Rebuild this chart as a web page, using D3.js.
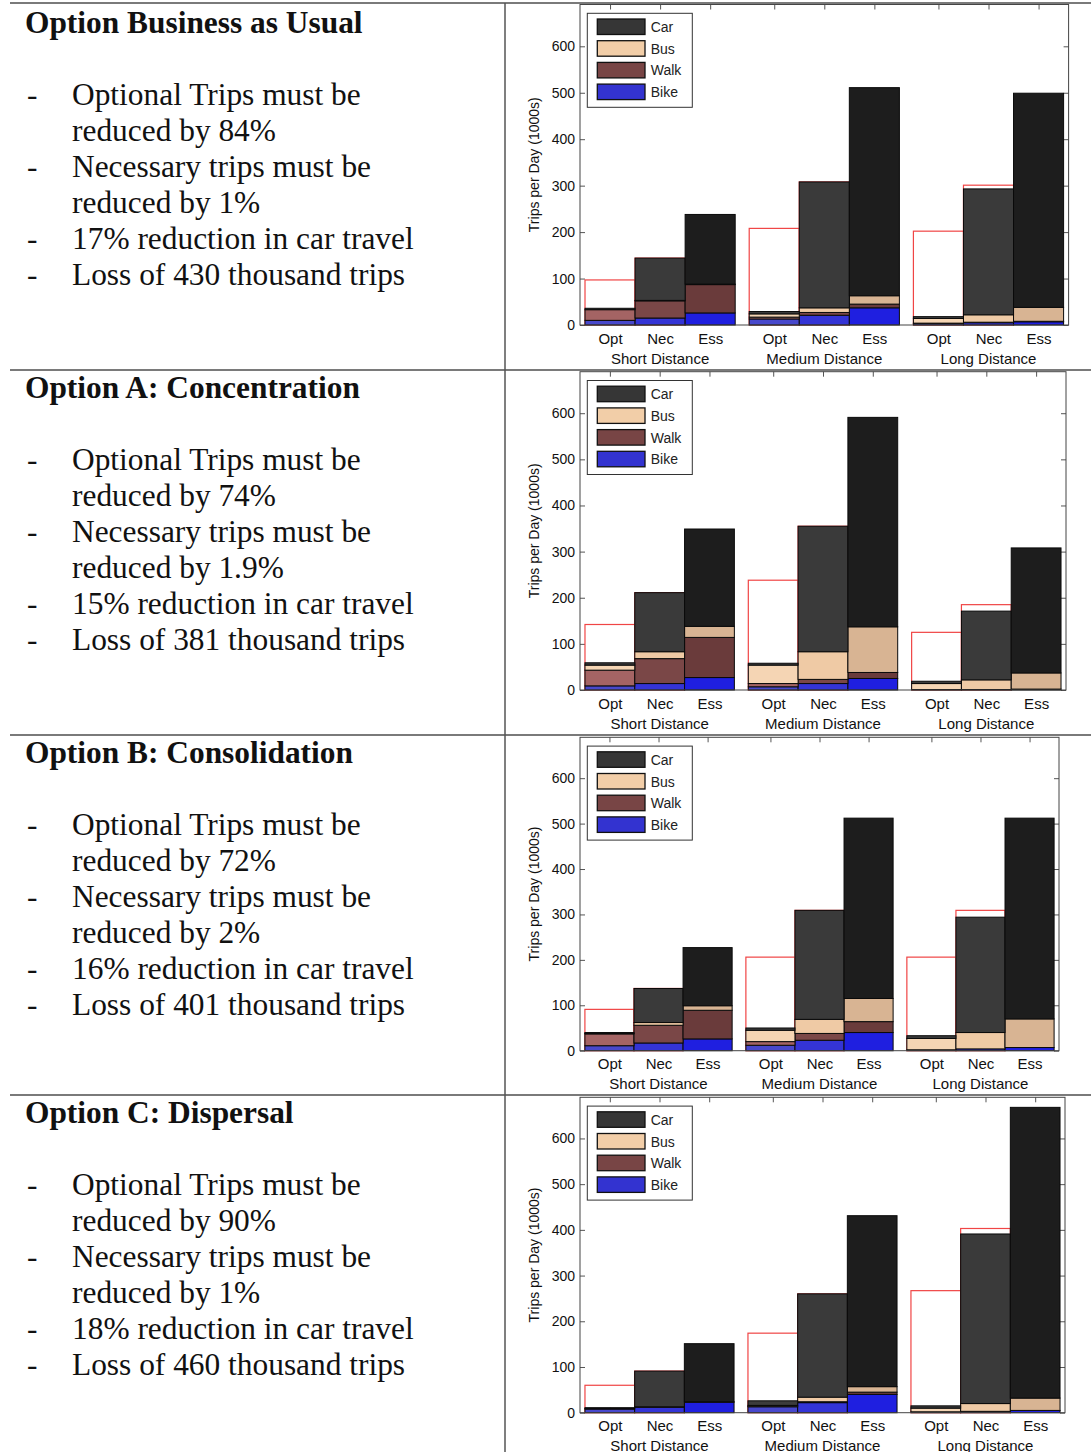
<!DOCTYPE html>
<html lang="en">
<head>
<meta charset="utf-8">
<script src="https://d3js.org/d3.v7.min.js"></script>
<style>
  body { margin: 0; background: #fff; }
</style>
</head>
<body>
<script>
// ---- data ----
const optionTitles = ["Option Business as Usual", "Option A: Concentration", "Option B: Consolidation", "Option C: Dispersal"];
const optReduction = ["84%", "74%", "72%", "90%"];
const necReduction = ["1%", "1.9%", "2%", "1%"];
const carReduction = ["17%", "15%", "16%", "18%"];
const tripsLost = ["430", "381", "401", "460"];

const groups = ["Short Distance", "Medium Distance", "Long Distance"];
const tripTypes = ["Opt", "Nec", "Ess"];
const modes = ["Car", "Bus", "Walk", "Bike"];
const yTicks = [0, 100, 200, 300, 400, 500, 600];

// trips per day (1000s); each row = one option, order Short Opt/Nec/Ess, Medium Opt/Nec/Ess, Long Opt/Nec/Ess
const bikeTrips = [
  [10, 15, 26, 13, 21, 37, 3, 5, 7],
  [9, 14, 27, 7, 14, 25, 1, 1, 2],
  [11, 17, 26, 12, 23, 40, 2, 4, 7],
  [8, 12, 23, 13, 22, 40, 2, 3, 5]
];
const walkTrips = [
  [23, 37, 61, 4, 6, 8, 1, 1, 1],
  [34, 54, 87, 7, 9, 13, 0, 0, 0],
  [26, 39, 63, 8, 15, 24, 0, 0, 0],
  [1, 1, 1, 1, 2, 5, 0, 0, 0]
];
const busTrips = [
  [0, 1, 1, 7, 10, 18, 10, 16, 30],
  [11, 15, 24, 40, 60, 99, 13, 21, 35],
  [1, 6, 10, 25, 31, 51, 25, 36, 63],
  [0, 0, 0, 2, 10, 12, 8, 17, 27]
];
const carTrips = [
  [3, 91, 150, 5, 271, 448, 4, 271, 461],
  [5, 128, 211, 4, 272, 454, 5, 149, 271],
  [2, 75, 128, 5, 240, 397, 6, 254, 442],
  [2, 78, 127, 10, 226, 374, 5, 371, 636]
];
// original demand before reductions (red outlines): Short, Medium, Long
const optOriginal = [
  [97, 208, 202],
  [142, 238, 125],
  [91, 206, 206],
  [60, 174, 267]
];
const necOriginal = [
  [144, 308, 301],
  [211, 355, 185],
  [137, 309, 309],
  [91, 260, 403]
];

// ---- styles / layout ----
const W = 1091, H = 1452;
const modeColors = {
  Car:  { legend: "#363636", Opt: "#3c3c3c", Nec: "#3a3a3a", Ess: "#1d1d1d" },
  Bus:  { legend: "#f2cea8", Opt: "#f5d5b4", Nec: "#efcaa5", Ess: "#d8b493" },
  Walk: { legend: "#784545", Opt: "#a46464", Nec: "#7a4747", Ess: "#6a3b3b" },
  Bike: { legend: "#3333d0", Opt: "#4848cc", Nec: "#3434d6", Ess: "#1f1fe0" }
};
const panels = [
  { rowY: 3,    titleY: 33,   plotTop: 4.5,   plotZero: 325,    plotRight: 1068.6 },
  { rowY: 370,  titleY: 398,  plotTop: 371.7, plotZero: 690,    plotRight: 1066 },
  { rowY: 735,  titleY: 763,  plotTop: 737.3, plotZero: 1050.7, plotRight: 1059 },
  { rowY: 1095, titleY: 1123, plotTop: 1097.3, plotZero: 1412.7, plotRight: 1065 }
];
const plotLeft = 580;
const textSize = 31.4;
const serif = "'Liberation Serif', 'Times New Roman', serif";
const sans = "'Liberation Sans', Arial, sans-serif";

const svg = d3.select("body").append("svg")
  .attr("width", W).attr("height", H)
  .style("display", "block");

// table rules
svg.append("g").selectAll("line").data(panels).join("line")
  .attr("x1", 10).attr("x2", W)
  .attr("y1", d => d.rowY).attr("y2", d => d.rowY)
  .attr("stroke", "#7a7a7a").attr("stroke-width", 2);
svg.append("line")
  .attr("x1", 505).attr("x2", 505).attr("y1", 3).attr("y2", H)
  .attr("stroke", "#555").attr("stroke-width", 1.5);

// bar slot positions in bar widths: 0.1 margin, groups spaced 3.28
const slot = (g, t) => 0.1 + g * 3.28 + t;

panels.forEach((p, k) => {
  // ---- left text ----
  const txt = svg.append("g").attr("font-family", serif).attr("fill", "#111");
  txt.append("text").attr("x", 25).attr("y", p.titleY)
    .attr("font-size", textSize).attr("font-weight", "bold")
    .text(optionTitles[k]);

  const items = [
    ["Optional Trips must be", "reduced by " + optReduction[k]],
    ["Necessary trips must be", "reduced by " + necReduction[k]],
    [carReduction[k] + " reduction in car travel"],
    ["Loss of " + tripsLost[k] + " thousand trips"]
  ];
  let line = 0;
  items.forEach(lines => {
    lines.forEach((s, j) => {
      const y = p.titleY + 72 + line * 36;
      if (j === 0) txt.append("text").attr("x", 27).attr("y", y).attr("font-size", textSize).text("-");
      txt.append("text").attr("x", 72).attr("y", y).attr("font-size", textSize).text(s);
      line++;
    });
  });

  // ---- chart ----
  const x = d3.scaleLinear().domain([0, 9.76]).range([plotLeft, p.plotRight]);
  const y = d3.scaleLinear().domain([0, 690]).range([p.plotZero, p.plotTop]);
  const bw = x(1) - x(0);
  const g = svg.append("g");

  const rows = [];
  groups.forEach((grp, gi) => tripTypes.forEach((tt, ti) => {
    const i = gi * 3 + ti;
    rows.push({ gi, ti, type: tt,
      Bike: bikeTrips[k][i], Walk: walkTrips[k][i], Bus: busTrips[k][i], Car: carTrips[k][i] });
  }));
  const centers = rows.map(r => slot(r.gi, r.ti) + 0.5);

  // axes (ticks inside, bars drawn over them)
  g.append("g").attr("transform", `translate(${plotLeft},0)`)
    .call(d3.axisLeft(y).tickValues(yTicks).tickSize(-5).tickPadding(5))
    .call(a => a.select(".domain").remove())
    .call(a => a.selectAll("text").attr("font-family", sans).attr("font-size", 14).attr("fill", "#111"))
    .call(a => a.selectAll("line").attr("stroke", "#555"));
  g.append("g").attr("transform", `translate(${p.plotRight},0)`)
    .call(d3.axisRight(y).tickValues(yTicks).tickSize(-5).tickFormat(""))
    .call(a => a.select(".domain").remove())
    .call(a => a.selectAll("line").attr("stroke", "#555"));
  g.append("g").attr("transform", `translate(0,${p.plotTop})`)
    .call(d3.axisTop(x).tickValues(centers).tickSize(-5).tickFormat(""))
    .call(a => a.select(".domain").remove())
    .call(a => a.selectAll("line").attr("stroke", "#555"));
  g.append("g").attr("transform", `translate(0,${p.plotZero})`)
    .call(d3.axisBottom(x).tickValues(centers).tickSize(-5).tickPadding(8)
      .tickFormat((d, i) => tripTypes[i % 3]))
    .call(a => a.select(".domain").remove())
    .call(a => a.selectAll("text").attr("font-family", sans).attr("font-size", 15).attr("fill", "#111"))
    .call(a => a.selectAll("line").attr("stroke", "#555"));

  // group labels
  g.selectAll(".grp").data(groups).join("text")
    .attr("x", (d, gi) => x(slot(gi, 1) + 0.5))
    .attr("y", p.plotZero + 38.5)
    .attr("text-anchor", "middle")
    .attr("font-family", sans).attr("font-size", 15).attr("fill", "#111")
    .text(d => d);

  // y label
  g.append("text")
    .attr("transform", `translate(539,${(p.plotTop + p.plotZero) / 2}) rotate(-90)`)
    .attr("text-anchor", "middle")
    .attr("font-family", sans).attr("font-size", 14).attr("fill", "#111")
    .text("Trips per Day (1000s)");

  // red outlines: original optional and necessary demand
  const orig = [];
  groups.forEach((grp, gi) => {
    orig.push({ gi, ti: 0, v: optOriginal[k][gi] });
    orig.push({ gi, ti: 1, v: necOriginal[k][gi] });
  });
  g.selectAll(".orig").data(orig).join("rect")
    .attr("x", d => x(slot(d.gi, d.ti)))
    .attr("width", bw)
    .attr("y", d => y(d.v))
    .attr("height", d => y(0) - y(d.v))
    .attr("fill", "none").attr("stroke", "#f04545").attr("stroke-width", 1.2);

  // stacked bars
  const stack = d3.stack().keys(["Bike", "Walk", "Bus", "Car"])(rows);
  stack.forEach(layer => {
    g.append("g").selectAll("rect").data(layer).join("rect")
      .attr("x", d => x(slot(d.data.gi, d.data.ti)))
      .attr("width", bw)
      .attr("y", d => y(d[1]))
      .attr("height", d => y(d[0]) - y(d[1]))
      .attr("fill", d => modeColors[layer.key][d.data.type])
      .attr("stroke", "#0a0a0a").attr("stroke-width", 1);
  });

  // plot frame
  g.append("rect")
    .attr("x", plotLeft).attr("y", p.plotTop)
    .attr("width", p.plotRight - plotLeft).attr("height", p.plotZero - p.plotTop)
    .attr("fill", "none").attr("stroke", "#444").attr("stroke-width", 1);

  // legend
  const lg = g.append("g").attr("transform", `translate(${plotLeft + 7.3},${p.plotTop + 8.8})`);
  lg.append("rect").attr("width", 105).attr("height", 94)
    .attr("fill", "#fff").attr("stroke", "#333").attr("stroke-width", 1);
  const li = lg.selectAll(".li").data(modes).join("g")
    .attr("transform", (d, i) => `translate(10,${5.7 + i * 21.7})`);
  li.append("rect").attr("width", 47.7).attr("height", 15.5)
    .attr("fill", d => modeColors[d].legend)
    .attr("stroke", "#111").attr("stroke-width", 1.3);
  li.append("text").attr("x", 53.4).attr("y", 13)
    .attr("font-family", sans).attr("font-size", 14).attr("fill", "#222")
    .text(d => d);
});
</script>
</body>
</html>
